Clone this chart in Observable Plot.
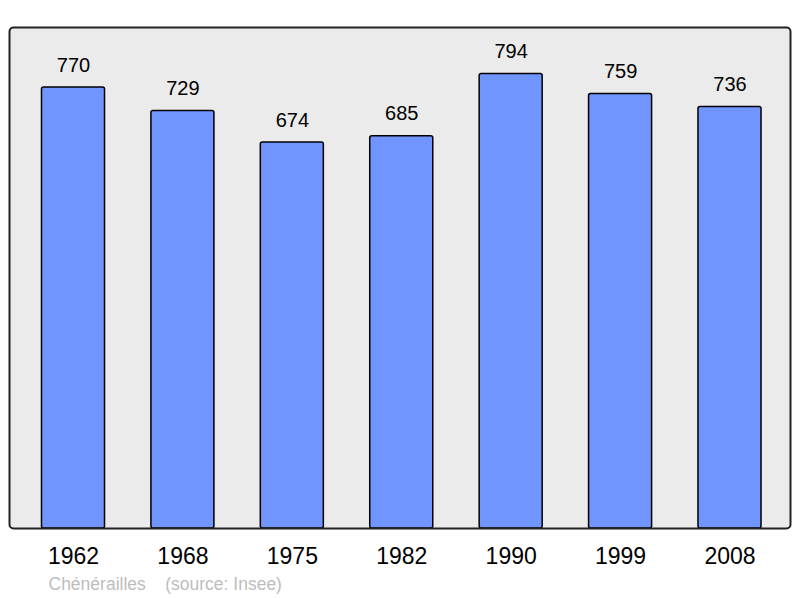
<!DOCTYPE html>
<html>
<head>
<meta charset="utf-8">
<script src="https://cdn.jsdelivr.net/npm/d3@7"></script>
<script src="https://cdn.jsdelivr.net/npm/@observablehq/plot@0.6"></script>
<style>
  html, body { margin: 0; padding: 0; background: #fff; }
  svg { display: block; }
</style>
</head>
<body>
<div id="chart"></div>
<script>
const years = ["1962", "1968", "1975", "1982", "1990", "1999", "2008"];
const population = [770, 729, 674, 685, 794, 759, 736];
const captionText = "Chénérailles    (source: Insee)";

const data = years.map((y, i) => ({year: y, value: population[i]}));

const chart = Plot.plot({
  width: 800,
  height: 598,
  marginLeft: 9,
  marginRight: 10,
  marginTop: 27,
  marginBottom: 70,
  style: {fontFamily: "'Liberation Sans', Arial, sans-serif", background: "#fff"},
  x: {domain: years, range: [18.3, 784.2], round: false, paddingInner: 0.424, paddingOuter: 0.212, label: null},
  y: {domain: [0, 875], axis: null},
  marks: [
    Plot.frame({fill: "#ebebeb", stroke: "none", rx: 4}),
    Plot.barY(data, {x: "year", y: "value", fill: "#7095ff", stroke: "#000", strokeWidth: 1.5, rx: 2}),
    Plot.text(data, {x: "year", y: "value", text: d => String(d.value), lineAnchor: "bottom", dy: -16, fontSize: 20, fill: "#000"}),
    Plot.frame({stroke: "#222", strokeWidth: 2, rx: 4}),
    Plot.axisX({tickSize: 0, tickPadding: 19, fontSize: 23, fill: "#000"}),
    Plot.text([captionText], {frameAnchor: "bottom-left", dx: 39, dy: 61, textAnchor: "start", fontSize: 17.5, fill: "#bdbdbd", text: d => d})
  ]
});
document.getElementById("chart").appendChild(chart);
</script>
</body>
</html>
